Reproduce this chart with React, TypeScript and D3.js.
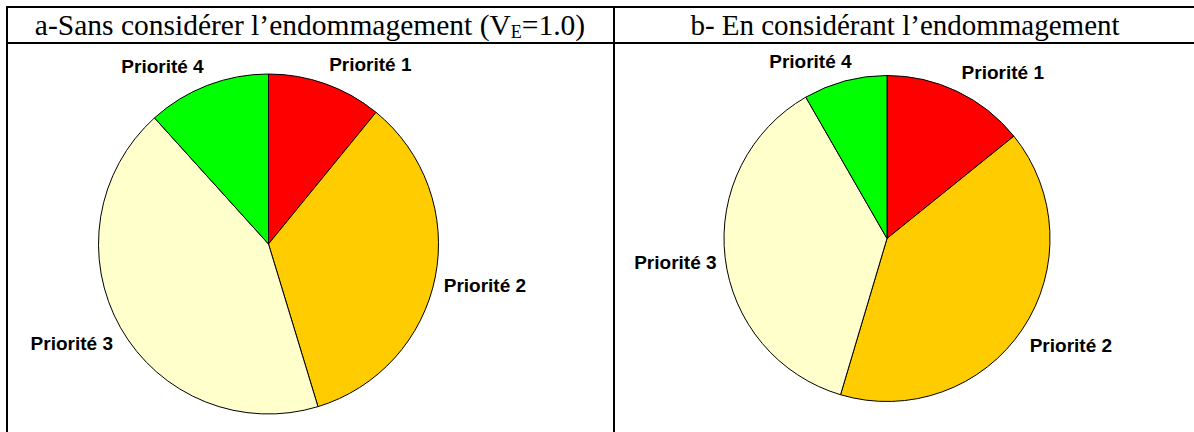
import { useEffect, useRef } from "react";
import * as d3 from "d3";

const categories = ["Priorité 1", "Priorité 2", "Priorité 3", "Priorité 4"];
const valuesA = [10.9, 34.4, 43.0, 11.7];
const valuesB = [14.2, 40.4, 37.1, 8.3];
const colors = ["#FF0000", "#FFCC00", "#FFFFCC", "#00FF00"];

const W = 1194;
const H = 432;

export default function App() {
  const ref = useRef<SVGSVGElement>(null);

  useEffect(() => {
    const svg = d3.select(ref.current);
    svg.selectAll("*").remove();

    // table frame
    const frame = svg.append("g").attr("stroke", "#000").attr("stroke-width", 2);
    frame.append("line").attr("x1", 7).attr("x2", W + 10).attr("y1", 7).attr("y2", 7);
    frame.append("line").attr("x1", 7).attr("x2", W + 10).attr("y1", 43).attr("y2", 43);
    frame.append("line").attr("x1", 7).attr("x2", 7).attr("y1", 6).attr("y2", H + 5);
    frame.append("line").attr("x1", 614).attr("x2", 614).attr("y1", 6).attr("y2", H + 5);

    // titles
    const ta = svg.append("text")
      .attr("x", 310).attr("y", 35)
      .attr("text-anchor", "middle")
      .style("font-family", "'Liberation Serif', 'Times New Roman', serif")
      .style("font-size", "29.5px");
    ta.append("tspan").text("a-Sans considérer l\u2019endommagement (V");
    ta.append("tspan").attr("dy", 3).style("font-size", "18px").text("E");
    ta.append("tspan").attr("dy", -3).text("=1.0)");

    svg.append("text")
      .attr("x", 905).attr("y", 35)
      .attr("text-anchor", "middle")
      .style("font-family", "'Liberation Serif', 'Times New Roman', serif")
      .style("font-size", "29px")
      .text("b- En considérant l\u2019endommagement");

    const drawPie = (values: number[], cx: number, cy: number, r: number) => {
      const pie = d3.pie<number>().sort(null).value((d) => d);
      const arcs = pie(values);
      const arc = d3.arc<d3.PieArcDatum<number>>().innerRadius(0).outerRadius(r);
      const g = svg.append("g").attr("transform", `translate(${cx},${cy})`);

      g.selectAll("path")
        .data(arcs)
        .enter()
        .append("path")
        .attr("d", arc)
        .attr("fill", (_d, i) => colors[i])
        .attr("stroke", "#000")
        .attr("stroke-width", 1);

      // labels placed like Excel's outside-end labels
      const labelR = r + 7.6;
      const boxH = 24;
      g.selectAll(".lbl")
        .data(arcs)
        .enter()
        .append("text")
        .attr("class", "lbl")
        .attr("text-anchor", "middle")
        .attr("dominant-baseline", "central")
        .style("font-family", "'Liberation Sans', Arial, sans-serif")
        .style("font-weight", "bold")
        .style("font-size", "19px")
        .text((_d, i) => categories[i])
        .each(function (d) {
          const el = this as SVGTextElement;
          const w = el.getComputedTextLength();
          const a = (d.startAngle + d.endAngle) / 2;
          const s = Math.sin(a);
          const c = Math.cos(a);
          const kx = Math.max(-1, Math.min(1, s * 3));
          const ky = Math.max(-1, Math.min(1, c * 3));
          const x = labelR * s + kx * (w / 2 + 1);
          const y = -labelR * c - ky * (boxH / 2);
          d3.select(el).attr("x", x).attr("y", y);
        });
    };

    drawPie(valuesA, 268.5, 244, 170);
    drawPie(valuesB, 887, 238.5, 163);
  }, []);

  return (
    <div style={{ position: "absolute", left: 0, top: 0 }}>
      <svg ref={ref} width={W} height={H} style={{ display: "block", background: "#fff" }} />
    </div>
  );
}
